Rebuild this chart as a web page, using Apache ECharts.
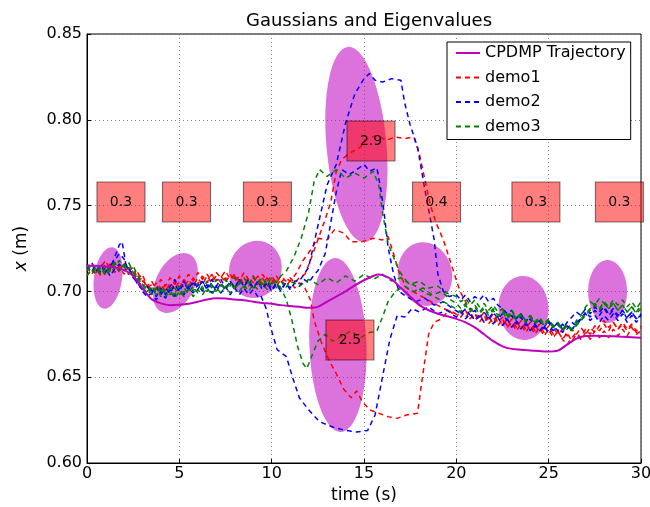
<!DOCTYPE html>
<html>
<head>
<meta charset="utf-8">
<script src="https://cdn.jsdelivr.net/npm/echarts@6.0.0/dist/echarts.min.js"></script>
<style>
  html, body { margin: 0; padding: 0; background: #fff; }
  #chart { width: 650px; height: 507px; }
</style>
</head>
<body>
<div id="chart"></div>
<script>
// Reproduced trajectory (time s, position m)
const cpdmp = [[0,0.715],[0.5,0.715],[1,0.7145],[1.5,0.714],[2,0.7125],[2.5,0.709],[3,0.702],[3.5,0.6955],[4,0.693],[4.5,0.692],[5,0.6922],[5.5,0.6928],[6,0.694],[6.5,0.6953],[7,0.696],[7.5,0.6958],[8,0.6953],[8.5,0.6948],[9,0.694],[9.5,0.6933],[10,0.6928],[10.5,0.692],[11,0.6915],[11.5,0.691],[12,0.6905],[12.5,0.691],[13,0.694],[13.5,0.697],[14,0.700],[14.5,0.7035],[15,0.7065],[15.5,0.709],[15.8,0.7098],[16,0.7095],[16.5,0.707],[17,0.702],[17.5,0.697],[18,0.692],[18.5,0.689],[19,0.687],[19.5,0.6855],[20,0.684],[20.5,0.682],[21,0.679],[21.5,0.675],[22,0.671],[22.5,0.668],[23,0.6665],[23.5,0.666],[24,0.6655],[24.5,0.6652],[25,0.665],[25.5,0.6655],[26,0.669],[26.5,0.6725],[27,0.674],[27.5,0.6742],[28,0.674],[28.5,0.6738],[29,0.6735],[29.5,0.6733],[30,0.673]];

// demo1 runs (red)
const demo1Up = [[0,0.712],[0.25,0.716],[0.5,0.711],[0.75,0.714],[1,0.718],[1.25,0.713],[1.5,0.716],[1.75,0.711],[2,0.717],[2.25,0.712],[2.5,0.714],[2.75,0.707],[3,0.71],[3.25,0.703],[3.5,0.706],[3.75,0.701],[4,0.707],[4.25,0.703],[4.5,0.708],[4.75,0.704],[5,0.709],[5.25,0.705],[5.5,0.71],[5.75,0.706],[6,0.711],[6.25,0.707],[6.5,0.71],[6.75,0.706],[7,0.711],[7.25,0.708],[7.5,0.712],[7.75,0.707],[8,0.71],[8.25,0.706],[8.5,0.711],[8.75,0.707],[9,0.709],[9.25,0.705],[9.5,0.71],[9.75,0.706],[10,0.709],[10.25,0.705],[10.5,0.709],[10.75,0.706],[11,0.708],[11.25,0.705],[11.5,0.708],[11.8,0.71],[12.1,0.718],[12.5,0.73],[12.9,0.742],[13.2,0.752],[13.5,0.77],[13.8,0.777],[14.3,0.781],[14.8,0.784],[15.2,0.789],[15.7,0.791],[16.2,0.788],[16.7,0.79],[17.2,0.789],[17.7,0.79],[18.0,0.78],[18.3,0.765],[18.6,0.75],[18.9,0.74],[19.3,0.73],[19.6,0.72],[19.9,0.71],[20.2,0.70],[20.6,0.692],[21,0.687],[21.25,0.684],[21.5,0.688],[21.75,0.683],[22,0.687],[22.25,0.682],[22.5,0.685],[22.75,0.68],[23,0.684],[23.25,0.679],[23.5,0.683],[23.75,0.678],[24,0.682],[24.25,0.677],[24.5,0.681],[24.75,0.676],[25,0.68],[25.25,0.675],[25.5,0.677],[25.75,0.672],[26,0.669],[26.25,0.673],[26.5,0.676],[26.75,0.673],[27,0.678],[27.25,0.675],[27.5,0.68],[27.75,0.677],[28,0.681],[28.25,0.677],[28.5,0.682],[28.75,0.678],[29,0.681],[29.25,0.677],[29.5,0.68],[29.75,0.676],[30,0.679]];
const demo1Mid = [[0,0.714],[0.25,0.71],[0.5,0.713],[0.75,0.709],[1,0.712],[1.25,0.716],[1.5,0.711],[1.75,0.715],[2,0.71],[2.25,0.714],[2.5,0.709],[2.75,0.711],[3,0.706],[3.25,0.704],[3.5,0.701],[3.75,0.705],[4,0.7],[4.25,0.704],[4.5,0.701],[4.75,0.706],[5,0.702],[5.25,0.707],[5.5,0.703],[5.75,0.708],[6,0.704],[6.25,0.709],[6.5,0.705],[6.75,0.71],[7,0.706],[7.25,0.709],[7.5,0.705],[7.75,0.71],[8,0.706],[8.25,0.709],[8.5,0.704],[8.75,0.708],[9,0.705],[9.25,0.709],[9.5,0.704],[9.75,0.708],[10,0.705],[10.25,0.709],[10.5,0.705],[10.75,0.708],[11,0.706],[11.3,0.71],[11.7,0.718],[12.1,0.724],[12.5,0.731],[13,0.73],[13.4,0.736],[13.9,0.734],[14.3,0.729],[14.9,0.729],[15.5,0.731],[16,0.73],[16.3,0.732],[16.6,0.722],[16.9,0.711],[17.3,0.702],[17.8,0.699],[18.3,0.696],[18.8,0.693],[19.3,0.69],[19.8,0.688],[20.25,0.685],[20.5,0.689],[20.75,0.684],[21,0.687],[21.25,0.682],[21.5,0.686],[21.75,0.681],[22,0.685],[22.25,0.68],[22.5,0.684],[22.75,0.679],[23,0.682],[23.25,0.677],[23.5,0.681],[23.75,0.676],[24,0.68],[24.25,0.675],[24.5,0.679],[24.75,0.674],[25,0.678],[25.25,0.673],[25.5,0.677],[25.75,0.672],[26,0.676],[26.25,0.671],[26.5,0.675],[26.75,0.672],[27,0.676],[27.25,0.672],[27.5,0.677],[27.75,0.673],[28,0.677],[28.25,0.673],[28.5,0.678],[28.75,0.674],[29,0.678],[29.25,0.674],[29.5,0.679],[29.75,0.675],[30,0.677]];
const demo1Down = [[0,0.709],[0.25,0.713],[0.5,0.71],[0.75,0.714],[1,0.71],[1.25,0.713],[1.5,0.717],[1.75,0.712],[2,0.715],[2.25,0.71],[2.5,0.712],[2.75,0.706],[3,0.708],[3.25,0.702],[3.5,0.704],[3.75,0.699],[4,0.704],[4.25,0.7],[4.5,0.705],[4.75,0.701],[5,0.706],[5.25,0.702],[5.5,0.707],[5.75,0.703],[6,0.708],[6.25,0.704],[6.5,0.709],[6.75,0.705],[7,0.709],[7.25,0.705],[7.5,0.708],[7.75,0.704],[8,0.709],[8.25,0.705],[8.5,0.708],[8.75,0.703],[9,0.708],[9.25,0.704],[9.5,0.708],[9.75,0.703],[10,0.707],[10.25,0.703],[10.5,0.707],[10.75,0.703],[11,0.706],[11.25,0.702],[11.5,0.705],[11.8,0.702],[12.1,0.695],[12.3,0.683],[12.7,0.67],[13.1,0.66],[13.5,0.652],[13.9,0.643],[14.3,0.638],[14.6,0.642],[14.9,0.636],[15.3,0.631],[15.8,0.629],[16.3,0.627],[16.8,0.626],[17.3,0.628],[17.9,0.629],[18.1,0.645],[18.3,0.66],[18.5,0.675],[18.8,0.682],[19.2,0.684],[19.6,0.689],[20,0.685],[20.25,0.689],[20.5,0.685],[20.75,0.688],[21,0.683],[21.25,0.687],[21.5,0.682],[21.75,0.686],[22,0.681],[22.25,0.685],[22.5,0.68],[22.75,0.684],[23,0.679],[23.25,0.683],[23.5,0.678],[23.75,0.682],[24,0.677],[24.25,0.681],[24.5,0.676],[24.75,0.68],[25,0.675],[25.25,0.679],[25.5,0.675],[25.75,0.678],[26,0.674],[26.25,0.678],[26.5,0.675],[26.75,0.679],[27,0.675],[27.25,0.679],[27.5,0.676],[27.75,0.68],[28,0.683],[28.25,0.679],[28.5,0.682],[28.75,0.678],[29,0.682],[29.25,0.678],[29.5,0.681],[29.75,0.677],[30,0.68]];

// demo2 runs (blue)
const demo2High = [[0,0.716],[0.25,0.712],[0.5,0.715],[0.75,0.711],[1,0.716],[1.25,0.713],[1.5,0.72],[1.75,0.727],[1.9,0.729],[2.1,0.716],[2.25,0.713],[2.5,0.71],[2.75,0.705],[3,0.702],[3.25,0.698],[3.5,0.701],[3.75,0.697],[4,0.702],[4.25,0.698],[4.5,0.703],[4.75,0.707],[5,0.702],[5.25,0.706],[5.5,0.701],[5.75,0.705],[6,0.701],[6.25,0.706],[6.5,0.702],[6.75,0.707],[7,0.703],[7.25,0.707],[7.5,0.702],[7.75,0.706],[8,0.702],[8.25,0.707],[8.5,0.703],[8.75,0.706],[9,0.701],[9.25,0.706],[9.5,0.702],[9.75,0.706],[10,0.701],[10.25,0.705],[10.5,0.701],[10.75,0.705],[11,0.702],[11.25,0.706],[11.5,0.706],[12,0.714],[12.5,0.738],[13,0.762],[13.5,0.774],[14,0.798],[14.5,0.815],[15,0.824],[15.3,0.827],[15.6,0.823],[16,0.822],[16.5,0.824],[17,0.823],[17.2,0.81],[17.5,0.797],[17.9,0.784],[18.3,0.759],[18.6,0.742],[18.8,0.73],[19,0.71],[19.3,0.70],[19.6,0.697],[20,0.698],[20.25,0.695],[20.5,0.698],[20.75,0.694],[21,0.697],[21.25,0.695],[21.5,0.698],[21.75,0.694],[22,0.696],[22.25,0.692],[22.5,0.69],[22.75,0.687],[23,0.689],[23.25,0.684],[23.5,0.687],[23.75,0.682],[24,0.686],[24.25,0.681],[24.5,0.684],[24.75,0.679],[25,0.683],[25.25,0.679],[25.5,0.682],[25.75,0.678],[26,0.682],[26.25,0.685],[26.5,0.688],[26.75,0.686],[27,0.69],[27.25,0.687],[27.5,0.691],[27.75,0.688],[28,0.691],[28.25,0.687],[28.5,0.69],[28.75,0.686],[29,0.689],[29.25,0.685],[29.5,0.688],[29.75,0.684],[30,0.686]];
const demo2Mid = [[0,0.713],[0.25,0.717],[0.5,0.712],[0.75,0.716],[1,0.711],[1.25,0.715],[1.5,0.718],[1.75,0.722],[2,0.719],[2.25,0.712],[2.5,0.709],[2.75,0.704],[3,0.701],[3.25,0.703],[3.5,0.699],[3.75,0.703],[4,0.698],[4.25,0.702],[4.5,0.699],[4.75,0.704],[5,0.7],[5.25,0.705],[5.5,0.701],[5.75,0.706],[6,0.702],[6.25,0.706],[6.5,0.701],[6.75,0.705],[7,0.7],[7.25,0.705],[7.5,0.701],[7.75,0.706],[8,0.702],[8.25,0.707],[8.5,0.703],[8.75,0.707],[9,0.702],[9.25,0.706],[9.5,0.701],[9.75,0.705],[10,0.7],[10.25,0.704],[10.5,0.7],[10.75,0.705],[11,0.701],[11.25,0.705],[11.5,0.703],[11.75,0.707],[12,0.705],[12.25,0.709],[12.5,0.712],[12.9,0.722],[13.2,0.74],[13.5,0.758],[13.8,0.771],[14.2,0.768],[14.6,0.771],[15,0.774],[15.3,0.77],[15.7,0.772],[15.9,0.76],[16.1,0.745],[16.3,0.726],[16.6,0.71],[16.9,0.70],[17.3,0.697],[17.8,0.694],[18.3,0.696],[18.8,0.692],[19.3,0.694],[19.8,0.69],[20.25,0.687],[20.5,0.69],[20.75,0.686],[21,0.689],[21.25,0.685],[21.5,0.688],[21.75,0.684],[22,0.688],[22.25,0.684],[22.5,0.687],[22.75,0.683],[23,0.686],[23.25,0.681],[23.5,0.685],[23.75,0.68],[24,0.684],[24.25,0.679],[24.5,0.683],[24.75,0.678],[25,0.682],[25.25,0.677],[25.5,0.681],[25.75,0.676],[26,0.68],[26.25,0.677],[26.5,0.682],[26.75,0.684],[27,0.688],[27.25,0.685],[27.5,0.689],[27.75,0.686],[28,0.69],[28.25,0.686],[28.5,0.689],[28.75,0.685],[29,0.689],[29.25,0.684],[29.5,0.688],[29.75,0.684],[30,0.687]];
const demo2Down = [[0,0.715],[0.25,0.711],[0.5,0.714],[0.75,0.71],[1,0.714],[1.25,0.709],[1.5,0.713],[1.75,0.716],[2,0.712],[2.25,0.714],[2.5,0.708],[2.75,0.705],[3,0.7],[3.25,0.697],[3.5,0.699],[3.75,0.695],[4,0.7],[4.25,0.696],[4.5,0.701],[4.75,0.697],[5,0.702],[5.25,0.698],[5.5,0.703],[5.75,0.699],[6,0.704],[6.25,0.7],[6.5,0.704],[6.75,0.699],[7,0.703],[7.25,0.699],[7.5,0.703],[7.75,0.698],[8,0.702],[8.25,0.698],[8.5,0.702],[8.75,0.698],[9,0.701],[9.25,0.697],[9.4,0.698],[9.7,0.69],[10,0.677],[10.3,0.666],[10.8,0.662],[11.1,0.651],[11.5,0.638],[12,0.631],[12.6,0.624],[13.3,0.621],[14,0.619],[14.6,0.618],[15.2,0.619],[15.6,0.628],[16,0.65],[16.4,0.672],[16.8,0.686],[17.2,0.685],[17.6,0.69],[18,0.688],[18.5,0.691],[19,0.687],[19.5,0.689],[20,0.685],[20.25,0.688],[20.5,0.684],[20.75,0.687],[21,0.683],[21.25,0.686],[21.5,0.682],[21.75,0.685],[22,0.681],[22.25,0.685],[22.5,0.68],[22.75,0.684],[23,0.679],[23.25,0.683],[23.5,0.678],[23.75,0.682],[24,0.677],[24.25,0.681],[24.5,0.677],[24.75,0.68],[25,0.676],[25.25,0.68],[25.5,0.677],[25.75,0.681],[26,0.678],[26.25,0.682],[26.5,0.68],[26.75,0.684],[27,0.687],[27.25,0.683],[27.5,0.686],[27.75,0.682],[28,0.686],[28.25,0.683],[28.5,0.687],[28.75,0.683],[29,0.687],[29.25,0.682],[29.5,0.686],[29.75,0.682],[30,0.686]];

// demo3 runs (green)
const demo3Up = [[0,0.712],[0.25,0.716],[0.5,0.712],[0.75,0.715],[1,0.71],[1.25,0.714],[1.5,0.717],[1.75,0.712],[2,0.716],[2.25,0.713],[2.5,0.715],[2.75,0.709],[3,0.704],[3.25,0.7],[3.5,0.703],[3.75,0.699],[4,0.703],[4.25,0.699],[4.5,0.702],[4.75,0.698],[5,0.703],[5.25,0.699],[5.5,0.704],[5.75,0.7],[6,0.705],[6.25,0.701],[6.5,0.706],[6.75,0.702],[7,0.707],[7.25,0.703],[7.5,0.707],[7.75,0.703],[8,0.708],[8.25,0.704],[8.5,0.708],[8.75,0.704],[9,0.709],[9.25,0.705],[9.5,0.708],[9.75,0.704],[10,0.708],[10.25,0.705],[10.5,0.709],[10.8,0.712],[11.2,0.72],[11.6,0.731],[12,0.746],[12.3,0.764],[12.6,0.771],[13,0.767],[13.5,0.771],[14,0.766],[14.5,0.769],[15,0.766],[15.5,0.77],[15.8,0.762],[16,0.746],[16.3,0.728],[16.6,0.72],[16.9,0.712],[17.3,0.706],[17.8,0.703],[18.3,0.699],[18.8,0.697],[19.3,0.694],[19.8,0.691],[20.25,0.688],[20.5,0.692],[20.75,0.688],[21,0.691],[21.25,0.687],[21.5,0.69],[21.75,0.686],[22,0.689],[22.25,0.685],[22.5,0.688],[22.75,0.684],[23,0.687],[23.25,0.683],[23.5,0.686],[23.75,0.682],[24,0.685],[24.25,0.681],[24.5,0.684],[24.75,0.68],[25,0.683],[25.25,0.679],[25.5,0.681],[25.75,0.677],[26,0.68],[26.25,0.678],[26.5,0.683],[26.75,0.686],[27,0.691],[27.25,0.694],[27.5,0.692],[27.75,0.696],[28,0.693],[28.25,0.69],[28.5,0.693],[28.75,0.689],[29,0.692],[29.25,0.688],[29.5,0.691],[29.75,0.688],[30,0.692]];
const demo3Down = [[0,0.715],[0.25,0.711],[0.5,0.714],[0.75,0.71],[1,0.715],[1.25,0.711],[1.5,0.714],[1.75,0.718],[2,0.714],[2.25,0.717],[2.5,0.711],[2.75,0.707],[3,0.705],[3.25,0.701],[3.5,0.698],[3.75,0.702],[4,0.697],[4.25,0.701],[4.5,0.698],[4.75,0.702],[5,0.698],[5.25,0.702],[5.5,0.699],[5.75,0.703],[6,0.699],[6.25,0.703],[6.5,0.7],[6.75,0.704],[7,0.7],[7.25,0.704],[7.5,0.701],[7.75,0.705],[8,0.701],[8.25,0.705],[8.5,0.702],[8.75,0.706],[9,0.702],[9.25,0.706],[9.5,0.703],[9.75,0.707],[10,0.703],[10.25,0.706],[10.5,0.702],[10.8,0.695],[11.1,0.683],[11.4,0.668],[11.7,0.658],[11.9,0.655],[12.2,0.663],[12.5,0.671],[12.9,0.675],[13.3,0.671],[13.8,0.674],[14.3,0.677],[14.8,0.673],[15.3,0.676],[15.7,0.677],[16,0.685],[16.3,0.694],[16.7,0.70],[17.2,0.703],[17.7,0.70],[18.2,0.702],[18.7,0.698],[19.2,0.70],[19.7,0.695],[20,0.693],[20.25,0.69],[20.5,0.693],[20.75,0.689],[21,0.692],[21.25,0.688],[21.5,0.691],[21.75,0.687],[22,0.69],[22.25,0.686],[22.5,0.689],[22.75,0.685],[23,0.688],[23.25,0.684],[23.5,0.687],[23.75,0.683],[24,0.686],[24.25,0.682],[24.5,0.685],[24.75,0.681],[25,0.684],[25.25,0.68],[25.5,0.682],[25.75,0.678],[26,0.68],[26.25,0.677],[26.5,0.68],[26.75,0.683],[27,0.686],[27.25,0.689],[27.5,0.692],[27.75,0.689],[28,0.693],[28.25,0.69],[28.5,0.693],[28.75,0.689],[29,0.692],[29.25,0.688],[29.5,0.691],[29.75,0.687],[30,0.69]];
const demo3Flat = [[0,0.709],[0.25,0.713],[0.5,0.71],[0.75,0.714],[1,0.709],[1.25,0.712],[1.5,0.716],[1.75,0.712],[2,0.715],[2.25,0.71],[2.5,0.712],[2.75,0.706],[3,0.703],[3.25,0.699],[3.5,0.702],[3.75,0.698],[4,0.701],[4.25,0.697],[4.5,0.7],[4.75,0.696],[5,0.7],[5.25,0.697],[5.5,0.701],[5.75,0.697],[6,0.701],[6.25,0.698],[6.5,0.702],[6.75,0.698],[7,0.702],[7.25,0.699],[7.5,0.703],[7.75,0.699],[8,0.703],[8.25,0.7],[8.5,0.704],[8.75,0.7],[9,0.704],[9.25,0.701],[9.5,0.705],[9.75,0.701],[10,0.705],[10.25,0.702],[10.5,0.706],[10.75,0.702],[11,0.706],[11.5,0.703],[12,0.707],[12.5,0.704],[13,0.708],[13.5,0.705],[14,0.709],[14.5,0.706],[15,0.71],[15.5,0.707],[16,0.71],[16.5,0.706],[17,0.708],[17.5,0.704],[18,0.706],[18.5,0.702],[19,0.703],[19.5,0.699],[20,0.697],[20.25,0.694],[20.5,0.696],[20.75,0.692],[21,0.695],[21.25,0.691],[21.5,0.693],[21.75,0.689],[22,0.692],[22.25,0.688],[22.5,0.69],[22.75,0.686],[23,0.689],[23.25,0.685],[23.5,0.687],[23.75,0.683],[24,0.686],[24.25,0.682],[24.5,0.684],[24.75,0.68],[25,0.683],[25.25,0.679],[25.5,0.681],[25.75,0.678],[26,0.681],[26.25,0.678],[26.5,0.681],[26.75,0.684],[27,0.687],[27.25,0.69],[27.5,0.693],[27.75,0.69],[28,0.694],[28.25,0.691],[28.5,0.695],[28.75,0.692],[29,0.695],[29.25,0.691],[29.5,0.694],[29.75,0.69],[30,0.694]];

// Gaussian components: centre (t, x), full width (s), full height (m), tilt (deg, counter-clockwise)
const gaussT     = [1.14, 4.79, 9.12, 13.59, 14.59, 18.30, 23.64, 28.19];
const gaussX     = [0.7078, 0.7049, 0.7128, 0.6688, 0.7856, 0.7101, 0.6903, 0.6999];
const gaussW     = [1.52, 2.11, 2.82, 3.09, 3.25, 2.92, 2.71, 2.11];
const gaussH     = [0.0361, 0.0373, 0.0338, 0.1014, 0.1142, 0.0373, 0.0373, 0.0367];
const gaussAngle = [-8, -26, -20, 2, 5, 12, 3, 0];

// Eigenvalue annotations
const eigT     = [1.84, 5.39, 9.77, 15.38, 14.24, 18.93, 24.31, 28.83];
const eigX     = [0.7521, 0.7521, 0.7521, 0.7876, 0.6717, 0.7521, 0.7521, 0.7521];
const eigLabel = ['0.3', '0.3', '0.3', '2.9', '2.5', '0.4', '0.3', '0.3'];

const xTicks = [0, 5, 10, 15, 20, 25, 30];

const FONT = 'DejaVu Sans';
const chart = echarts.init(document.getElementById('chart'), null, { renderer: 'canvas' });

const ellipseData = gaussT.map((t, i) => [t, gaussX[i], gaussW[i], gaussH[i], gaussAngle[i]]);
const eigData = eigT.map((t, i) => [t, eigX[i], eigLabel[i]]);

function demoSeries(name, color, data) {
  return {
    name: name,
    type: 'line',
    data: data,
    symbol: 'none',
    z: 3,
    lineStyle: { color: color, width: 1.5, type: [5, 4] },
    itemStyle: { color: color }
  };
}

const gridLine = { show: true, lineStyle: { color: '#666', width: 0.8, type: [1, 3] } };

chart.setOption({
  animation: false,
  backgroundColor: '#fff',
  title: {
    text: 'Gaussians and Eigenvalues',
    left: 364, top: 7, textAlign: 'center',
    textStyle: { fontFamily: FONT, fontSize: 18, fontWeight: 'normal', color: '#000' }
  },
  grid: {
    left: 87, right: 9, top: 34, bottom: 44,
    show: true, borderColor: '#000', borderWidth: 1,
    containLabel: false, outerBoundsMode: 'none'
  },
  legend: {
    data: ['CPDMP Trajectory', 'demo1', 'demo2', 'demo3'],
    orient: 'vertical',
    left: 447, top: 42,
    padding: [2, 5, 4, 8],
    itemGap: 6.5,
    itemWidth: 24, itemHeight: 10,
    backgroundColor: '#fff',
    borderColor: '#000', borderWidth: 1, borderRadius: 0,
    itemStyle: { opacity: 0 },
    textStyle: { fontFamily: FONT, fontSize: 16, color: '#000', lineHeight: 18 },
    selectedMode: false,
    z: 10
  },
  xAxis: {
    type: 'value', min: 0, max: 30, interval: 5,
    name: 'time (s)', nameLocation: 'middle', nameGap: 23,
    nameTextStyle: { fontFamily: FONT, fontSize: 17, color: '#000' },
    axisLine: { show: true, onZero: false, lineStyle: { color: '#000' } },
    axisTick: { show: true, inside: true, length: 4, lineStyle: { color: '#000' } },
    axisLabel: { fontFamily: FONT, fontSize: 16, color: '#000', margin: 3,
      customValues: xTicks, formatter: v => String(v) },
    splitLine: gridLine
  },
  yAxis: {
    type: 'value', min: 0.60, max: 0.85, interval: 0.05,
    name: '{i|x} (m)', nameLocation: 'middle', nameGap: 57, nameRotate: 90,
    nameTextStyle: { fontFamily: FONT, fontSize: 17, color: '#000',
      rich: { i: { fontFamily: FONT, fontSize: 17, fontStyle: 'italic', color: '#000' } } },
    axisLine: { show: true, onZero: false, lineStyle: { color: '#000' } },
    axisTick: { show: true, inside: true, length: 4, lineStyle: { color: '#000' } },
    axisLabel: { fontFamily: FONT, fontSize: 16, color: '#000', margin: 5,
      formatter: v => v.toFixed(2) },
    splitLine: gridLine
  },
  series: [
    {
      name: 'gaussians',
      type: 'custom',
      silent: true,
      z: 1,
      data: ellipseData,
      encode: { x: 0, y: 1 },
      renderItem: function (params, api) {
        const c = api.coord([api.value(0), api.value(1)]);
        const s = api.size([api.value(2), api.value(3)]);
        return {
          type: 'ellipse',
          x: c[0], y: c[1],
          rotation: api.value(4) * Math.PI / 180,
          shape: { cx: 0, cy: 0, rx: s[0] / 2, ry: s[1] / 2 },
          style: { fill: 'rgba(191,0,191,0.55)' }
        };
      }
    },
    demoSeries('demo1', '#ff0000', demo1Up),
    demoSeries('demo1', '#ff0000', demo1Mid),
    demoSeries('demo1', '#ff0000', demo1Down),
    demoSeries('demo2', '#0000ff', demo2High),
    demoSeries('demo2', '#0000ff', demo2Mid),
    demoSeries('demo2', '#0000ff', demo2Down),
    demoSeries('demo3', '#008000', demo3Up),
    demoSeries('demo3', '#008000', demo3Down),
    demoSeries('demo3', '#008000', demo3Flat),
    {
      name: 'CPDMP Trajectory',
      type: 'line',
      data: cpdmp,
      symbol: 'none',
      smooth: 0.3,
      z: 4,
      lineStyle: { color: '#bf00bf', width: 2 },
      itemStyle: { color: '#bf00bf' }
    },
    {
      name: 'eigenvalues',
      type: 'scatter',
      silent: true,
      z: 5,
      data: eigData,
      symbol: 'rect',
      symbolSize: [48, 40],
      itemStyle: { color: 'rgba(255,0,0,0.5)', borderColor: 'rgba(0,0,0,0.5)', borderWidth: 1, opacity: 1 },
      label: {
        show: true, position: 'inside',
        formatter: p => p.value[2],
        fontFamily: FONT, fontSize: 14, color: '#111'
      }
    }
  ]
});
</script>
</body>
</html>
